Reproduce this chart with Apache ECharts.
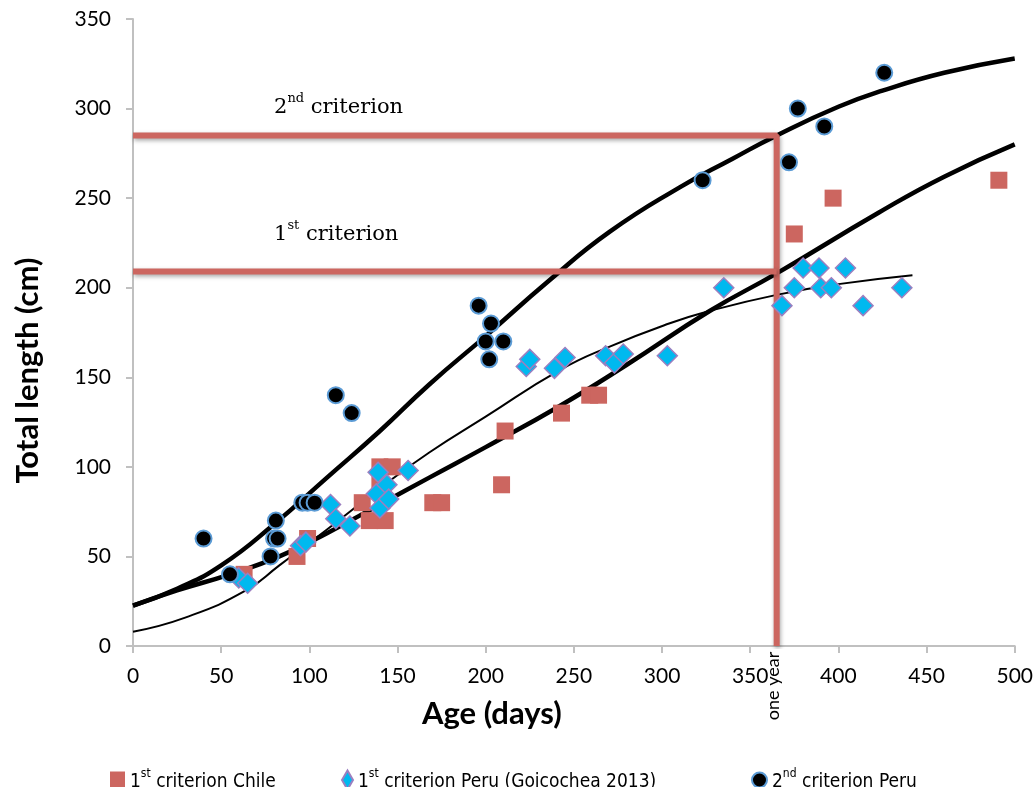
<!DOCTYPE html>
<html><head><meta charset="utf-8">
<script src="https://cdn.jsdelivr.net/npm/echarts@6/dist/echarts.min.js"></script>
<style>html,body{margin:0;padding:0;background:#fff}#c{width:1036px;height:787px}</style>
</head><body><div id="c"></div>
<script>
// ---- data ----
const chileDays = [63,93,99,130,134,140,140,143,147,170,175,209,211,243,259,264,375,397,491];
const chileLen  = [40,50,60,80,70,90,100,70,100,80,80,90,120,130,140,140,230,250,260];

const peruDays = [60,65,95,98,112,115,123,138,139,140,144,145,156,223,225,239,245,268,273,278,303,335,368,375,380,389,390,396,404,414,436];
const peruLen  = [38,35,56,58,79,71,67,85,97,77,90,82,98,156,160,155,161,162,158,163,162,200,190,200,211,211,200,200,211,190,200];

const peru2Days = [40,55,78,80,82,81,96,99,103,115,124,196,200,202,203,210,323,372,377,392,426];
const peru2Len  = [60,40,50,60,60,70,80,80,80,140,130,190,170,160,180,170,260,270,300,290,320];

// fitted growth curves
const upperDays = [0,25,50,80,110,140,168,200,236,270,310,340,365,400,425,460,500];
const upperLen  = [22.5,32,45,68,94,120,146,173,204,231,256,272,285,301,310,320,328];
const lowerDays = [0,25,55,83,110,140,168,200,242,280,327,365,423,460,500];
const lowerLen  = [22.5,31,40,50,63,79,94,111,134,157,187,208,242,262,280];
const thinDays  = [0,30,64,83,110,140,168,200,242,270,304,327,365,400,442];
const thinLen   = [8,16,31,45,65,88,108,128,154,167,180,187,196,202,207];

// reference lines
const oneYear = 365;
const crit1 = 209;
const crit2 = 285;

// annotation anchors
const label2At = [80, 302];
const label1At = [80, 231];

const xMin = 0, xMax = 500, xStep = 50;
const yMin = 0, yMax = 350, yStep = 50;

const zip = (a, b) => a.map((v, i) => [v, b[i]]);

const RED = '#cc6660';
const tickFont = 'Lato, "Open Sans", sans-serif';
const legendFont = '"Liberation Sans Narrow", "DejaVu Sans Condensed", "Roboto Condensed", sans-serif';

const chart = echarts.init(document.getElementById('c'), null, {renderer: 'canvas'});

const legendText = {
  fontFamily: legendFont, fontSize: 19, color: '#000',
  rich: {
    n: {fontFamily: legendFont, fontSize: 19, lineHeight: 24, color: '#000', verticalAlign: 'bottom'},
    s: {fontFamily: legendFont, fontSize: 12, lineHeight: 24, color: '#000', verticalAlign: 'top'}
  }
};

const curveStyle = (w) => ({color: '#000', width: w});

const option = {
  animation: false,
  backgroundColor: '#fff',
  grid: {left: 133, right: 21, top: 19, bottom: 141, containLabel: false},
  xAxis: {
    type: 'value', min: xMin, max: xMax, interval: xStep,
    name: 'Age (days)', nameLocation: 'middle', nameGap: 52,
    nameTextStyle: {fontFamily: tickFont, fontWeight: 'bold', fontSize: 31, color: '#000', padding: [0, 164, 0, 0]},
    axisLine: {show: true, lineStyle: {color: '#c0c0c0', width: 2}},
    axisTick: {show: true, inside: false, length: 7, lineStyle: {color: '#c0c0c0', width: 2}},
    axisLabel: {fontFamily: tickFont, fontSize: 21, color: '#000', margin: 20},
    splitLine: {show: false}
  },
  yAxis: {
    type: 'value', min: yMin, max: yMax, interval: yStep,
    name: 'Total length (cm)', nameLocation: 'middle', nameGap: 90, nameRotate: 90,
    nameTextStyle: {fontFamily: tickFont, fontWeight: 'bold', fontSize: 31, color: '#000', padding: [0, 76, 0, 0]},
    axisLine: {show: true, lineStyle: {color: '#c0c0c0', width: 2}},
    axisTick: {show: true, inside: false, length: 7, lineStyle: {color: '#c0c0c0', width: 2}},
    axisLabel: {fontFamily: tickFont, fontSize: 21, color: '#000', margin: 22},
    splitLine: {show: false}
  },
  legend: [
    {data: ['1st criterion Chile'], left: 105, top: 763, icon: 'rect', itemWidth: 15, itemHeight: 17,
     formatter: () => '{n|1}{s|st}{n| criterion Chile}', textStyle: legendText},
    {data: ['1st criterion Peru (Goicochea 2013)'], left: 336, top: 763, icon: 'diamond', itemWidth: 11, itemHeight: 19,
     formatter: () => '{n|1}{s|st}{n| criterion Peru (Goicochea 2013)}', textStyle: legendText},
    {data: ['2nd criterion Peru'], left: 746, top: 763, icon: 'circle', itemWidth: 15, itemHeight: 15,
     formatter: () => '{n|2}{s|nd}{n| criterion Peru}', textStyle: legendText}
  ],
  series: [
    {name: 'upper fit', type: 'line', data: zip(upperDays, upperLen), smooth: 0.5,
     showSymbol: false, z: 2, lineStyle: curveStyle(4.5), silent: true},
    {name: 'lower fit', type: 'line', data: zip(lowerDays, lowerLen), smooth: 0.5,
     showSymbol: false, z: 2, lineStyle: curveStyle(4.5), silent: true},
    {name: 'thin fit', type: 'line', data: zip(thinDays, thinLen), smooth: 0.5,
     showSymbol: false, z: 2, lineStyle: curveStyle(2), silent: true},
    {name: 'crit2 line', type: 'line', data: [[xMin, crit2], [oneYear, crit2], [oneYear, yMin]],
     showSymbol: false, z: 3, silent: true,
     lineStyle: {color: RED, width: 6, shadowColor: 'rgba(0,0,0,0.35)', shadowBlur: 4, shadowOffsetX: 1, shadowOffsetY: 2}},
    {name: 'crit1 line', type: 'line', data: [[xMin, crit1], [oneYear, crit1]],
     showSymbol: false, z: 3, silent: true,
     lineStyle: {color: RED, width: 6, shadowColor: 'rgba(0,0,0,0.35)', shadowBlur: 4, shadowOffsetX: 1, shadowOffsetY: 2}},
    {name: '1st criterion Chile', type: 'scatter', data: zip(chileDays, chileLen), symbol: 'rect', symbolSize: 17, z: 4,
     itemStyle: {color: RED, opacity: 1}},
    {name: '1st criterion Peru (Goicochea 2013)', type: 'scatter', data: zip(peruDays, peruLen), symbol: 'diamond', symbolSize: 20, z: 5,
     itemStyle: {color: '#00b9ef', borderColor: '#9b7fc0', borderWidth: 1.5, opacity: 1}},
    {name: '2nd criterion Peru', type: 'scatter', data: zip(peru2Days, peru2Len), symbol: 'circle', symbolSize: 16, z: 6,
     itemStyle: {color: '#000', borderColor: '#5b9bd5', borderWidth: 2, opacity: 1}}
  ]
};
chart.setOption(option);

// annotations positioned through the chart's own scales
const p2 = chart.convertToPixel({gridIndex: 0}, label2At);
const p1 = chart.convertToPixel({gridIndex: 0}, label1At);
const py = chart.convertToPixel({gridIndex: 0}, [oneYear, yMin]);
const serif = '"DejaVu Serif", "Liberation Serif", serif';
const annRich = {
  n: {fontFamily: serif, fontSize: 21, lineHeight: 26, fill: '#000', verticalAlign: 'bottom'},
  s: {fontFamily: serif, fontSize: 13, lineHeight: 26, fill: '#000', verticalAlign: 'top'}
};
chart.setOption({
  graphic: [
    {type: 'text', x: p2[0], y: p2[1], z: 10,
     style: {text: '{n|2}{s|nd}{n| criterion}', rich: annRich, align: 'left', verticalAlign: 'middle', fill: '#000'}},
    {type: 'text', x: p1[0], y: p1[1], z: 10,
     style: {text: '{n|1}{s|st}{n| criterion}', rich: annRich, align: 'left', verticalAlign: 'middle', fill: '#000'}},
    {type: 'text', x: py[0] - 3, y: py[1] + 40, rotation: Math.PI / 2, z: 10,
     style: {text: 'one year', fontFamily: tickFont, fontSize: 18, fill: '#000', align: 'center', verticalAlign: 'middle'}}
  ]
});
</script>
</body></html>
